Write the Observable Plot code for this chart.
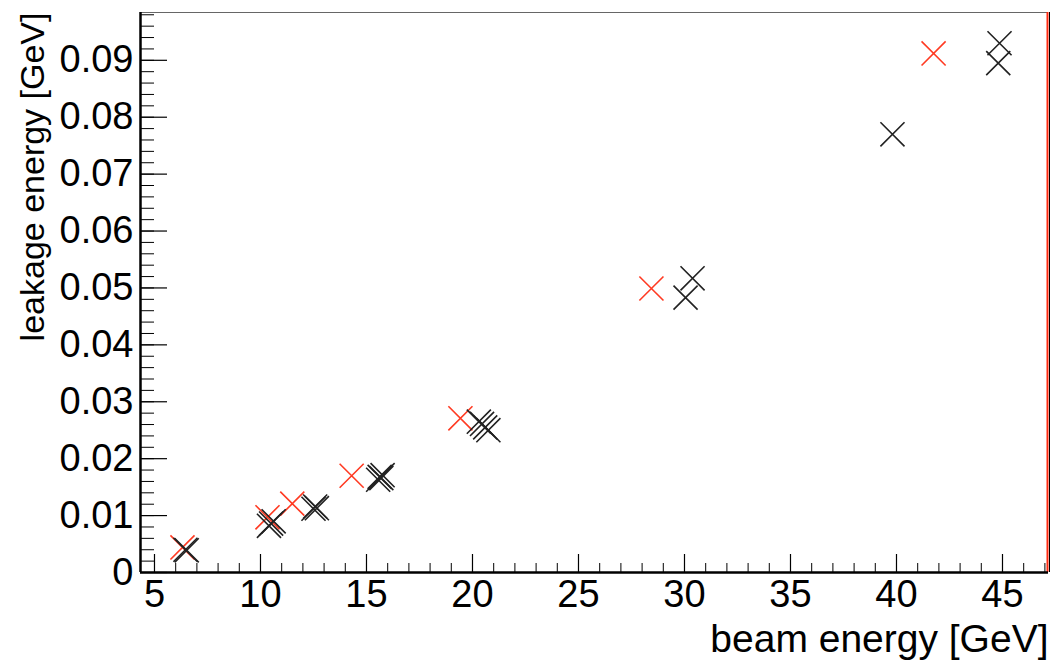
<!DOCTYPE html>
<html>
<head>
<meta charset="utf-8">
<script src="https://cdn.jsdelivr.net/npm/d3@7"></script>
<script src="https://cdn.jsdelivr.net/npm/@observablehq/plot@0.6"></script>
<style>
  html, body { margin: 0; padding: 0; background: #fff; }
  #chart svg { display: block; }
</style>
</head>
<body>
<div id="chart"></div>
<script>
// ---- data ----
const redBeam = [6.32, 10.33, 11.5, 14.3, 19.43, 28.44, 41.75];
const redLeak = [0.0044, 0.0097, 0.0121, 0.0170, 0.0271, 0.0499, 0.0912];

const blackBeam = [6.46, 6.52,
                   10.4, 10.5, 10.62,
                   12.5, 12.58, 12.66,
                   15.55, 15.62, 15.7, 15.76,
                   20.3, 20.45, 20.6, 20.75,
                   30.05, 30.38,
                   39.81,
                   44.86, 44.8];
const blackLeak = [0.0040, 0.0039,
                   0.0082, 0.0086, 0.0090,
                   0.0112, 0.0116, 0.0113,
                   0.0163, 0.0168, 0.0166, 0.0171,
                   0.0265, 0.0261, 0.0255, 0.0250,
                   0.0483, 0.0517,
                   0.0770,
                   0.0930, 0.0895];

// ---- axes ----
const xDomain = [4.34, 47.17];
const yDomain = [0, 0.0984];
const xMajor = [5, 10, 15, 20, 25, 30, 35, 40, 45];
const yMajor = [0, 0.01, 0.02, 0.03, 0.04, 0.05, 0.06, 0.07, 0.08, 0.09];
const xMinor = d3.range(5, 48, 1);
const yMinor = d3.range(0, 0.0985, 0.002);
const xTitle = "beam energy [GeV]";
const yTitle = "leakage energy [GeV]";

const red = redBeam.map((b, i) => ({beam: b, leak: redLeak[i]}));
const black = blackBeam.map((b, i) => ({beam: b, leak: blackLeak[i]}));

const W = 1056, H = 663;
const mTop = 12, mRight = 8, mBottom = 91, mLeft = 140;
const frameW = W - mLeft - mRight, frameH = H - mTop - mBottom;

const chart = Plot.plot({
  width: W,
  height: H,
  marginTop: mTop,
  marginRight: mRight,
  marginBottom: mBottom,
  marginLeft: mLeft,
  style: {fontFamily: "'Liberation Sans', Arial, sans-serif", background: "#fff", color: "#000"},
  x: {domain: xDomain, axis: null},
  y: {domain: yDomain, axis: null},
  marks: [
    // inner ticks
    Plot.tickX(xMinor, {x: d => d, insetTop: frameH - 9, stroke: "#000", strokeWidth: 1}),
    Plot.tickX(xMajor, {x: d => d, insetTop: frameH - 18, stroke: "#000", strokeWidth: 1.2}),
    Plot.tickY(yMinor, {y: d => d, insetRight: frameW - 14, stroke: "#000", strokeWidth: 1}),
    Plot.tickY(yMajor, {y: d => d, insetRight: frameW - 27, stroke: "#000", strokeWidth: 1.2}),
    // frame
    Plot.ruleY([yDomain[1]], {stroke: "#666", strokeWidth: 1.2}),
    Plot.ruleX([xDomain[1]], {stroke: "#000", strokeWidth: 1, dx: 1}),
    Plot.ruleX([xDomain[1]], {stroke: "#ff2a10", strokeWidth: 2, dx: -1}),
    Plot.ruleY([yDomain[0]], {stroke: "#000", strokeWidth: 2.5}),
    Plot.ruleX([xDomain[0]], {stroke: "#000", strokeWidth: 2.5}),
    // tick labels
    Plot.axisX(xMajor, {anchor: "bottom", tickSize: 0, tickPadding: 8, fontSize: 38, tickFormat: d => String(d), label: null}),
    Plot.axisY(yMajor, {anchor: "left", tickSize: 0, tickPadding: 7, fontSize: 38, tickFormat: d => d === 0 ? "0" : d.toFixed(2), label: null}),
    // axis titles
    Plot.text([xTitle], {text: d => d, frameAnchor: "bottom-right", textAnchor: "end", lineAnchor: "bottom", dy: 79, fontSize: 39, fill: "#000"}),
    Plot.text([yTitle], {text: d => d, frameAnchor: "top-left", textAnchor: "end", lineAnchor: "bottom", rotate: -90, dx: -97, dy: 0, fontSize: 34, fill: "#000"}),
    // markers
    Plot.dot(red, {x: "beam", y: "leak", symbol: "times", r: 11, stroke: "#ff3a22", strokeWidth: 1.6}),
    Plot.dot(black, {x: "beam", y: "leak", symbol: "times", r: 11, stroke: "#222", strokeWidth: 1.6})
  ]
});
document.getElementById("chart").appendChild(chart);
</script>
</body>
</html>
